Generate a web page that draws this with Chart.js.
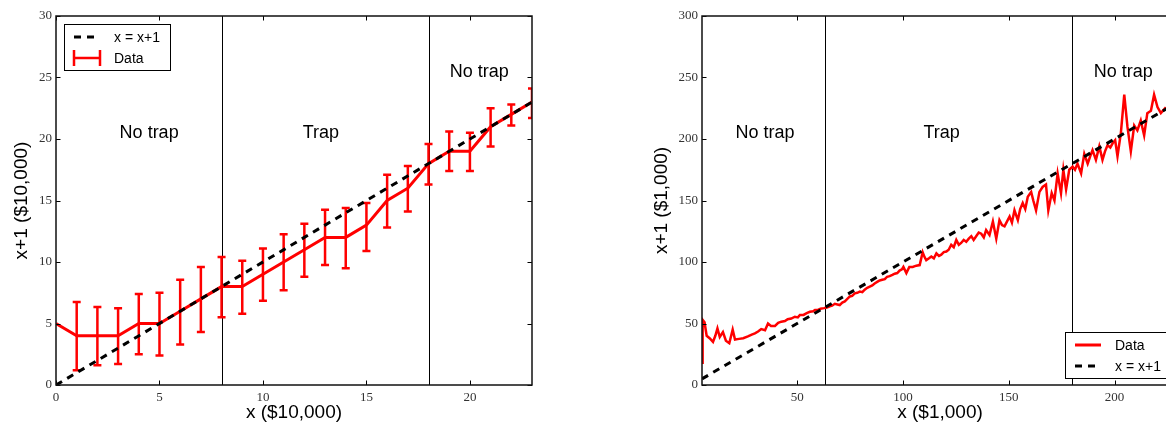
<!DOCTYPE html>
<html><head><meta charset="utf-8">
<script src="https://cdn.jsdelivr.net/npm/chart.js@4/dist/chart.umd.min.js"></script>
<style>
html,body{margin:0;padding:0;background:#fff;overflow:hidden;width:1166px;height:425px;position:relative;}
#w1{position:absolute;left:0;top:0;width:560px;height:425px;}
#w2{position:absolute;left:640px;top:0;width:560px;height:425px;}
</style></head><body>
<div id="w1"><canvas id="c1" width="560" height="425"></canvas></div>
<div id="w2"><canvas id="c2" width="560" height="425"></canvas></div>
<script>
// ---------- Left panel data ($10,000) ----------
const leftX    = [0,1,2,3,4,5,6,7,8,9,10,11,12,13,14,15,16,17,18,19,20,21,22,23];
const leftY    = [5,4,4,4,5,5,6,7,8,8,9,10,11,12,12,13,15,16,18,19,19,21,22,23];
const leftLow  = [null,1.2,1.6,1.7,2.5,2.4,3.3,4.3,5.5,5.8,6.85,7.7,8.8,9.75,9.5,10.9,12.8,14.1,16.3,17.4,17.4,19.4,21.1,21.7];
const leftHigh = [null,6.75,6.35,6.25,7.4,7.5,8.55,9.6,10.4,10.1,11.1,12.25,13.1,14.25,14.4,14.8,17.1,17.8,19.6,20.6,20.5,22.5,22.8,24.1];
const leftDiagX = [0,23];
const leftDiagY = [0,23];
const leftXTicks = [0,5,10,15,20];
const leftYTicks = [0,5,10,15,20,25,30];

// ---------- Right panel data ($1,000) ----------
const rightX = [5,5.3,6.2,7.2,8.6,10.2,11.3,12.3,13.4,14.9,16.3,17.9,19.5,20.6,22.5,24.5,26.7,28.5,30,31.5,33,34.8,36.2,37.6,39.5,41,42.5,44.2,45.5,47.2,48.9,50.3,51.3,53,54.5,56,57.5,58.4,59.8,61,62.7,64,65.4,66.5,67.8,69,70.1,71.3,72.5,73.7,74.9,76,77.2,78.4,79.6,80.8,81.9,83.1,84.3,85.5,86.6,88,89,90.2,91.4,92.5,93.7,95,96.1,97.3,98.4,99.5,100.2,101.6,103,104.6,106.3,107.9,109.3,110.2,111,112.3,113.4,114.6,115.8,117,118.1,119.3,120.5,121.6,122.8,124,125.2,126.4,127.5,128.7,129.9,131.1,132.3,133.4,134.6,135.8,137,138.2,139.3,140.9,142.5,144.1,145.6,146.8,148,149.2,150.4,151.5,152.7,154.3,155.4,156.6,157.8,159,160.6,161.6,162.9,164.5,166,167.6,168.7,170.3,171.6,173.1,174.7,175.8,177.1,178.6,180.2,181.3,182.5,184.2,185.7,187.3,188.5,189.6,191.2,192.8,194.3,195.5,196.7,198,199.1,200.3,201.4,203,204.6,206.1,207.7,209.3,210.8,212.4,214,215.5,217.2,218.7,220.3,221.9,223.9,225.5,227,228.5,229.7];
const rightY = [18,53,51,40,38,35,40,46,39,43,36,34,45,37,37.5,38,39.5,41,42,43.5,45.5,44.5,50,48,48,50.5,51.5,52,53.5,54,55.5,55,57,57,58.5,59.5,60,61,61,62,62.5,63,64,64.5,66,65.5,65,67,68,70,72,72.5,74.5,75,76,75.5,77.5,79,80,81,82.5,84,85,85.5,86,88,88.5,89.5,90.5,91,93,94,96,91,96,96,97,97.5,108,104,101.5,103,104.5,103,107,105,106,108,108.5,110,114,112,118,114,115.5,118,116.5,119,121,118,121,124,123,120,126,122,133,119,134,130,129,133,137,132,142,134,143,148,143,153,157,150,142,157,161,163,142,156,150,172,156,175,159,175,177.5,175,180,172,188,180,186,191,183,194,183,190,195,193,196.5,199,186,205,236,210,190,211,207,215,203,221,223,236,226,221,225,223,228,226,229];
const rightDiagX = [5,230];
const rightDiagY = [5,230];
const rightXTicks = [50,100,150,200];
const rightYTicks = [0,50,100,150,200,250,300];

const pts = (xs, ys) => xs.map((v, i) => ({x: v, y: ys[i]}));

const overlay = {
  id: 'overlay',
  beforeDatasetsDraw(chart) {
    const c = chart.options.plugins.overlay, ctx = chart.ctx, a = chart.chartArea;
    const xs = chart.scales.x, ys = chart.scales.y;
    ctx.save();
    ctx.strokeStyle = '#000'; ctx.lineWidth = 1;
    c.vlines.forEach(v => {
      const px = Math.round(xs.getPixelForValue(v)) + 0.5;
      ctx.beginPath(); ctx.moveTo(px, a.top); ctx.lineTo(px, a.bottom); ctx.stroke();
    });
    if (c.err) {
      ctx.beginPath(); ctx.rect(a.left, a.top, a.right - a.left, a.bottom - a.top); ctx.clip();
      ctx.strokeStyle = '#ff0000'; ctx.lineWidth = 2.5;
      c.err.x.forEach((xv, i) => {
        const lo = c.err.lo[i], hi = c.err.hi[i];
        if (lo == null) return;
        const px = xs.getPixelForValue(xv), p1 = ys.getPixelForValue(lo), p2 = ys.getPixelForValue(hi);
        ctx.beginPath();
        ctx.moveTo(px, p1); ctx.lineTo(px, p2);
        ctx.moveTo(px - 4, p1); ctx.lineTo(px + 4, p1);
        ctx.moveTo(px - 4, p2); ctx.lineTo(px + 4, p2);
        ctx.stroke();
      });
    }
    ctx.restore();
  },
  afterDraw(chart) {
    const c = chart.options.plugins.overlay, ctx = chart.ctx, a = chart.chartArea;
    const xs = chart.scales.x, ys = chart.scales.y;
    ctx.save();
    // inward ticks
    ctx.strokeStyle = '#000'; ctx.lineWidth = 1;
    const tl = 4.5;
    c.xticks.forEach(v => {
      const px = Math.round(xs.getPixelForValue(v)) + 0.5;
      ctx.beginPath();
      ctx.moveTo(px, a.bottom); ctx.lineTo(px, a.bottom - tl);
      ctx.moveTo(px, a.top); ctx.lineTo(px, a.top + tl);
      ctx.stroke();
    });
    c.yticks.forEach(v => {
      const py = Math.round(ys.getPixelForValue(v)) + 0.5;
      ctx.beginPath();
      ctx.moveTo(a.left, py); ctx.lineTo(a.left + tl, py);
      ctx.moveTo(a.right, py); ctx.lineTo(a.right - tl, py);
      ctx.stroke();
    });
    // frame
    ctx.lineWidth = 1.5; ctx.strokeStyle = '#111';
    ctx.strokeRect(a.left, a.top, a.right - a.left, a.bottom - a.top);
    // annotations
    ctx.fillStyle = '#000'; ctx.font = '18px "Liberation Sans", Arial, sans-serif';
    ctx.textAlign = 'center'; ctx.textBaseline = 'middle';
    c.labels.forEach(l => ctx.fillText(l.text, xs.getPixelForValue(l.x), ys.getPixelForValue(l.y)));
    // legend
    const L = c.legend, w = 106, h = 46;
    const lx = L.pos === 'ul' ? a.left + 8 : a.right - 7 - w;
    const ly = L.pos === 'ul' ? a.top + 8 : a.bottom - 7 - h;
    ctx.fillStyle = '#fff'; ctx.fillRect(lx, ly, w, h);
    ctx.lineWidth = 1; ctx.strokeStyle = '#000';
    ctx.strokeRect(lx + 0.5, ly + 0.5, w, h);
    ctx.font = '14px "Liberation Sans", Arial, sans-serif'; ctx.textAlign = 'left';
    L.items.forEach((it, i) => {
      const cy = ly + 13 + i * 21;
      ctx.save();
      if (it.kind === 'dash') {
        ctx.strokeStyle = '#000'; ctx.lineWidth = 3; ctx.setLineDash([7, 6]);
        ctx.beginPath(); ctx.moveTo(lx + 10, cy); ctx.lineTo(lx + 36, cy); ctx.stroke();
      } else if (it.kind === 'err') {
        ctx.strokeStyle = '#ff0000'; ctx.lineWidth = 2.5;
        ctx.beginPath(); ctx.moveTo(lx + 10, cy); ctx.lineTo(lx + 36, cy);
        ctx.moveTo(lx + 10, cy - 8); ctx.lineTo(lx + 10, cy + 8);
        ctx.moveTo(lx + 36, cy - 8); ctx.lineTo(lx + 36, cy + 8); ctx.stroke();
      } else {
        ctx.strokeStyle = '#ff0000'; ctx.lineWidth = 3;
        ctx.beginPath(); ctx.moveTo(lx + 10, cy); ctx.lineTo(lx + 36, cy); ctx.stroke();
      }
      ctx.restore();
      ctx.fillStyle = '#000';
      ctx.fillText(it.text, lx + 50, cy + 1);
    });
    ctx.restore();
  }
};

function makeChart(id, cfg) {
  return new Chart(document.getElementById(id), {
    type: 'scatter',
    data: {
      datasets: [
        {data: pts(cfg.diagX, cfg.diagY), showLine: true, borderColor: '#000', borderWidth: 3,
         borderDash: [7, 6], pointRadius: 0, order: 0},
        {data: pts(cfg.dataX, cfg.dataY), showLine: true, borderColor: '#ff0000', borderWidth: cfg.lw,
         pointRadius: 0, tension: 0, order: 1}
      ]
    },
    options: {
      responsive: false, animation: false, events: [],
      layout: {padding: {top: 16, right: cfg.padRight, left: 0, bottom: 0}},
      plugins: {
        legend: {display: false}, tooltip: {enabled: false},
        overlay: {vlines: cfg.vlines, err: cfg.err, xticks: cfg.xticks, yticks: cfg.yticks,
                  labels: cfg.labels, legend: cfg.legend}
      },
      scales: {
        x: {
          type: 'linear', min: cfg.xmin, max: cfg.xmax,
          afterBuildTicks: s => { s.ticks = cfg.xticks.map(v => ({value: v})); },
          afterFit: s => { s.height = 40; },
          grid: {display: false, drawTicks: false}, border: {display: false},
          ticks: {padding: 5, autoSkip: false, maxRotation: 0, color: '#333',
                  font: {family: '"Liberation Serif", serif', size: 13}},
          title: {display: true, text: cfg.xtitle, color: '#000',
                  font: {family: '"Liberation Sans", Arial, sans-serif', size: 19},
                  padding: {top: 0, bottom: 1}}
        },
        y: {
          type: 'linear', min: cfg.ymin, max: cfg.ymax,
          afterBuildTicks: s => { s.ticks = cfg.yticks.map(v => ({value: v})); },
          afterFit: s => { s.width = cfg.yw; },
          grid: {display: false, drawTicks: false}, border: {display: false},
          ticks: {padding: 4, autoSkip: false, color: '#333',
                  font: {family: '"Liberation Serif", serif', size: 13}},
          title: {display: true, text: cfg.ytitle, color: '#000',
                  font: {family: '"Liberation Sans", Arial, sans-serif', size: 19},
                  padding: {top: 10, bottom: 0}}
        }
      }
    },
    plugins: [overlay]
  });
}

makeChart('c1', {
  diagX: leftDiagX, diagY: leftDiagY, dataX: leftX, dataY: leftY, lw: 3,
  xmin: 0, xmax: 23, ymin: 0, ymax: 30, xticks: leftXTicks, yticks: leftYTicks,
  padRight: 28, yw: 56, xtitle: 'x ($10,000)', ytitle: 'x+1 ($10,000)',
  vlines: [8, 18],
  err: {x: leftX, lo: leftLow, hi: leftHigh},
  labels: [{text: 'No trap', x: 4.5, y: 20.5}, {text: 'Trap', x: 12.8, y: 20.5}, {text: 'No trap', x: 20.45, y: 25.45}],
  legend: {pos: 'ul', items: [{kind: 'dash', text: 'x = x+1'}, {kind: 'err', text: 'Data'}]}
});

makeChart('c2', {
  diagX: rightDiagX, diagY: rightDiagY, dataX: rightX, dataY: rightY, lw: 2.5,
  xmin: 5, xmax: 230, ymin: 0, ymax: 300, xticks: rightXTicks, yticks: rightYTicks,
  padRight: 22, yw: 62, xtitle: 'x ($1,000)', ytitle: 'x+1 ($1,000)',
  vlines: [63, 180],
  err: null,
  labels: [{text: 'No trap', x: 34.8, y: 205}, {text: 'Trap', x: 118.3, y: 205}, {text: 'No trap', x: 204.1, y: 254.5}],
  legend: {pos: 'lr', items: [{kind: 'line', text: 'Data'}, {kind: 'dash', text: 'x = x+1'}]}
});
</script>
</body></html>
